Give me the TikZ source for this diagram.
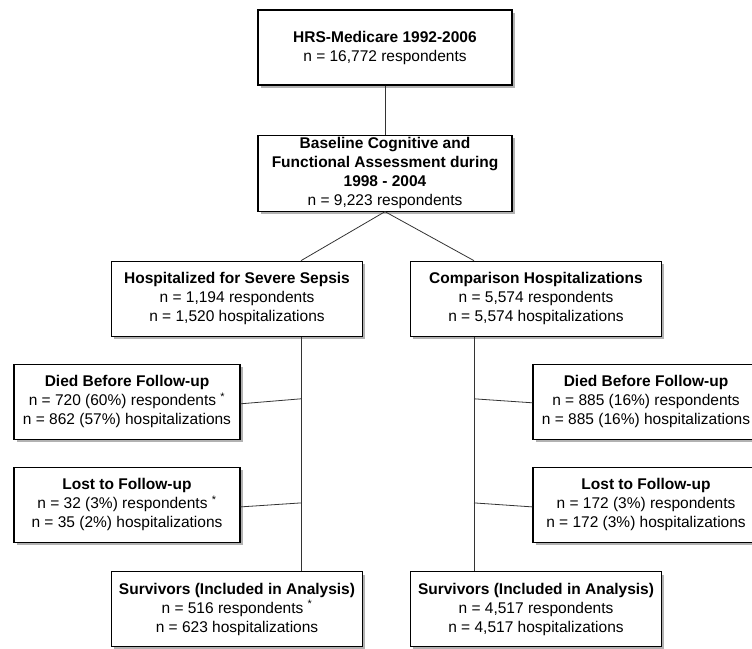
\documentclass[tikz,border=0pt]{standalone}
\usepackage{fontspec}
\setmainfont{Liberation Sans}
\usetikzlibrary{positioning, shadows, calc}

\begin{document}
\begin{tikzpicture}[
                x=1pt, y=1pt,
                node distance=27pt and 20pt,
                box/.style={rectangle, draw=black, line width=1.1pt, fill=white, drop shadow={shadow xshift=2.5pt, shadow yshift=-3pt, fill=black, opacity=0.3}, align=center, minimum height=75pt, inner sep=2pt, font=\fontsize{15.5}{19}\selectfont},
                wide/.style={box, minimum width=254pt},
                branch/.style={box, minimum width=251pt},
                side/.style={box, minimum width=226pt},
                link/.style={line width=0.8pt, draw=black!80}
            ]%
            \useasboundingbox (0,0) rectangle (752,-648);
            %
            % Cohort
            \node[wide] (hrs) at (385,-47.5) {\textbf{HRS-Medicare 1992-2006}\\n = 16,772 respondents};
            \node[wide, minimum height=76pt, below=49pt of hrs] (base) {\textbf{Baseline Cognitive and}\\\textbf{Functional Assessment during}\\\textbf{1998 - 2004}\\n = 9,223 respondents};
            %
            % Two arms
            \node[branch, below=49pt of base, xshift=-148pt] (sepsis) {\textbf{Hospitalized for Severe Sepsis}\\n = 1,194 respondents\\n = 1,520 hospitalizations};
            \node[branch, below=49pt of base, xshift=151pt] (comp) {\textbf{Comparison Hospitalizations}\\n = 5,574 respondents\\n = 5,574 hospitalizations};
            %
            % Sepsis arm
            \node[side, below=27pt of sepsis, xshift=-110pt] (diedL) {\textbf{Died Before Follow-up}\\n = 720 (60\%) respondents \textsuperscript{*}\\n = 862 (57\%) hospitalizations};
            \node[side, below=27pt of diedL] (lostL) {\textbf{Lost to Follow-up}\\n = 32 (3\%) respondents \textsuperscript{*}\\n = 35 (2\%) hospitalizations};
            \node[branch, below=28pt of lostL, xshift=110pt] (survL) {\textbf{Survivors (Included in Analysis)}\\n = 516 respondents \textsuperscript{*}\\n = 623 hospitalizations};
            %
            % Comparison arm
            \node[side, below=27pt of comp, xshift=110pt] (diedR) {\textbf{Died Before Follow-up}\\n = 885 (16\%) respondents\\n = 885 (16\%) hospitalizations};
            \node[side, below=27pt of diedR] (lostR) {\textbf{Lost to Follow-up}\\n = 172 (3\%) respondents\\n = 172 (3\%) hospitalizations};
            \node[branch, below=28pt of lostR, xshift=-110pt] (survR) {\textbf{Survivors (Included in Analysis)}\\n = 4,517 respondents\\n = 4,517 hospitalizations};
            %
            % Spines
            \coordinate (spL) at ([xshift=64pt]sepsis.south);
            \coordinate (spR) at ([xshift=-62pt]comp.south);
            %
            % Connections
            \draw[link] (hrs) -- (base);
            \draw[link] (base.south) -- (spL |- sepsis.north);
            \draw[link] (base.south) -- (spR |- comp.north);
            \draw[link] (spL) -- (spL |- survL.north);
            \draw[link] (spR) -- (spR |- survR.north);
            \draw[link] ([yshift=-2pt]diedL.east) -- ([yshift=3pt]diedL.east -| spL);
            \draw[link] ([yshift=-2pt]lostL.east) -- ([yshift=2pt]lostL.east -| spL);
            \draw[link] ([yshift=-1pt]diedR.west) -- ([yshift=3pt]diedR.west -| spR);
            \draw[link] ([yshift=-2pt]lostR.west) -- ([yshift=2pt]lostR.west -| spR);
        \end{tikzpicture}
\end{document}
